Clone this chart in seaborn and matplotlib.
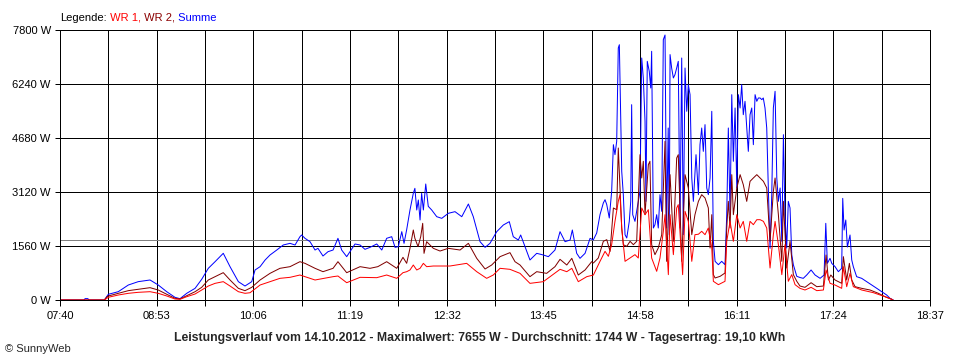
import matplotlib
matplotlib.use("Agg")
import pandas as pd
import matplotlib.pyplot as plt
import seaborn as sns

# time in minutes after midnight, power in W
t_summe = [
    460, 478, 479, 481, 482, 493.5, 496.5, 504.0, 511.6, 519.1,
    528.0, 534.2, 540.6, 546.8, 550.6, 555.7, 562.0, 567.0, 572.0, 577.1,
    583.3, 588.4, 594.7, 599.7, 604.8, 607.3, 611.1, 614.9, 618.6, 623.7,
    628.6, 633.7, 637.5, 641.2, 642.5, 645.0, 648.8, 652.6, 654.8, 658.6,
    662.4, 666.2, 669.9, 672.7, 676.5, 679.0, 682.8, 686.6, 690.3, 694.1,
    699.2, 703.0, 706.7, 710.5, 713.0, 715.5, 718.1, 719.8, 721.8, 724.3,
    726.8, 728.0, 729.4, 730.6, 731.9, 733.1, 734.4, 736.2, 738.1, 740.7,
    744.5, 748.3, 753.2, 758.3, 763.4, 768.4, 772.1, 777.2, 781.0, 784.7,
    789.8, 794.8, 799.3, 802.3, 806.1, 807.9, 811.2, 814.9, 820.0, 825.0,
    828.8, 833.8, 837.6, 841.4, 845.2, 846.9, 850.2, 852.7, 856.5, 860.3,
    862.7, 865.3, 867.8, 870.3, 871.6, 872.9, 874.8, 876.6, 877.9, 879.1,
    880.4, 881.6, 882.4, 883.4, 884.2, 885.4, 886.7, 888.0, 889.9, 891.0,
    891.7, 892.5, 894.2, 896.7, 898.0, 899.3, 900.5, 901.8, 902.5, 903.5,
    905.0, 906.1, 906.8, 908.1, 909.3, 910.6, 911.8, 913.1, 914.4, 915.6,
    916.9, 918.1, 919.3, 920.1, 920.7, 921.9, 923.2, 924.4, 925.7, 926.9,
    928.2, 929.5, 930.7, 932.0, 933.3, 934.5, 935.8, 937.1, 938.3, 940.3,
    942.1, 943.3, 944.6, 945.8, 947.1, 948.4, 949.6, 950.9, 952.2, 953.4,
    954.7, 957.2, 959.7, 962.2, 963.5, 964.7, 966.0, 967.3, 968.5, 969.8,
    971.1, 972.3, 973.6, 974.8, 976.0, 977.3, 978.6, 979.8, 981.1, 982.4,
    983.6, 984.9, 986.2, 987.4, 988.7, 990.0, 991.1, 992.4, 993.7, 994.9,
    996.2, 997.5, 998.7, 1000.0, 1001.3, 1002.5, 1003.8, 1005.1, 1006.3, 1007.5,
    1008.8, 1010.0, 1011.3, 1012.6, 1013.8, 1016.4, 1018.8, 1021.3, 1023.9, 1027.2,
    1030.2, 1034.0, 1037.0, 1038.3, 1039.5, 1041.5, 1042.8, 1045.3, 1047.8, 1050.3,
    1051.1, 1052.1, 1053.4, 1054.6, 1056.6, 1057.9, 1059.1, 1061.6, 1065.4, 1069.2,
    1073.0, 1076.8, 1080.5, 1084.3, 1086.8, 1089.3,
]
summe = [
    0, 0, 40, 40, 0, 0, 165, 240, 433, 530,
    578, 433, 240, 78, 38, 193, 337, 598, 915, 1107,
    1349, 963, 530, 404, 530, 867, 963, 1156, 1300, 1444,
    1589, 1637, 1589, 1829, 1878, 1782, 1685, 1444, 1493, 1271,
    1396, 1444, 1782, 1444, 1252, 1396, 1618, 1589, 1464, 1521,
    1618, 1444, 1782, 1829, 1521, 1541, 1974, 1637, 2032, 2600,
    3081, 3226, 2600, 2889, 2311, 3081, 2600, 3351, 2706, 2600,
    2407, 2359, 2504, 2552, 2407, 2773, 2407, 1685, 1521, 1637,
    1974, 2167, 2263, 1829, 1733, 1878, 1541, 1156, 1348, 1300,
    1252, 1444, 1974, 1685, 1733, 2022, 1348, 1204, 1348, 1782,
    1733, 1935, 2465, 2802, 2898, 2754, 2369, 3139, 4487, 4198,
    4584, 7281, 7375, 5258, 3717, 3043, 1887, 1791, 2272, 2850,
    5643, 2465, 2272, 2850, 3139, 6991, 6414, 5161, 2850, 6895,
    6606, 6125, 7185, 2080, 2176, 2465, 2080, 3043, 2562, 7520,
    7655, 2080, 4969, 1887, 7090, 6702, 6414, 6510, 6702, 6895,
    2080, 6991, 1887, 6702, 5451, 6220, 5932, 3525, 2850, 4198,
    3043, 4487, 4969, 4294, 5066, 3236, 3043, 3525, 5451, 1695,
    1117, 1020, 1117, 1020, 2465, 4969, 2465, 5932, 4007, 5547,
    3236, 5932, 5547, 6220, 5353, 5740, 4969, 4294, 5353, 5547,
    4487, 5932, 5740, 5836, 5836, 5788, 5836, 5547, 4969, 3236,
    1493, 3043, 5547, 6029, 3525, 2850, 3236, 1695, 4776, 2465,
    1502, 2850, 2658, 1310, 1020, 684, 650, 626, 722, 867,
    722, 626, 722, 2215, 1059, 1204, 1059, 963, 818, 915,
    2936, 2022, 2311, 1531, 1878, 1156, 963, 674, 626, 530,
    433, 337, 240, 144, 48, 0,
]

t_wr2 = [
    460, 493.5, 495.5, 496.5, 504.0, 511.6, 519.1, 528.0, 534.2, 540.6,
    546.8, 550.6, 555.7, 562.0, 567.0, 572.0, 577.1, 583.3, 588.4, 594.7,
    599.7, 604.8, 611.1, 618.6, 626.1, 633.7, 641.2, 645.0, 652.6, 658.6,
    666.2, 669.9, 676.5, 686.6, 694.1, 700.0, 706.7, 714.3, 719.0, 721.8,
    724.3, 726.8, 728.0, 730.4, 732.4, 733.9, 734.9, 736.9, 741.9, 747.0,
    753.2, 762.1, 768.4, 774.7, 781.0, 786.0, 792.3, 799.8, 803.6, 807.4,
    814.9, 820.0, 827.5, 833.8, 837.6, 842.7, 846.5, 851.4, 856.5, 861.5,
    862.8, 866.5, 870.3, 872.9, 875.4, 877.9, 880.4, 881.6, 882.9, 884.2,
    885.4, 888.0, 890.5, 893.0, 895.5, 898.0, 899.3, 900.5, 901.8, 904.3,
    905.5, 906.8, 909.3, 911.8, 914.4, 916.9, 918.1, 920.7, 923.2, 925.7,
    926.9, 929.5, 932.0, 934.5, 937.1, 939.5, 942.1, 944.6, 947.1, 949.6,
    950.9, 952.2, 953.4, 954.7, 958.5, 962.2, 963.5, 964.7, 966.0, 967.3,
    968.5, 971.1, 973.6, 976.0, 978.6, 981.1, 983.6, 986.2, 988.7, 991.2,
    993.7, 996.2, 998.7, 1000.0, 1002.5, 1005.1, 1006.3, 1008.8, 1011.3, 1013.8,
    1016.4, 1018.8, 1022.6, 1027.2, 1031.5, 1036.5, 1038.5, 1040.3, 1042.1, 1045.3,
    1050.3, 1051.6, 1054.1, 1056.1, 1057.9, 1060.4, 1065.4, 1071.7, 1078.0, 1083.0,
    1088.1, 1089.0,
]
wr2 = [
    0, 0, 95, 116, 193, 270, 308, 356, 289, 165,
    49, 30, 125, 240, 366, 578, 674, 790, 578, 337,
    269, 366, 578, 770, 915, 963, 1107, 1059, 915, 818,
    915, 1107, 789, 963, 915, 963, 1107, 915, 1233, 1060,
    1493, 2022, 1782, 1541, 1830, 2215, 1348, 1685, 1493, 1415,
    1493, 1444, 1637, 1204, 896, 1011, 1252, 1368, 1107, 1011,
    674, 818, 770, 963, 1175, 1011, 1204, 722, 867, 1107,
    1069, 1213, 1695, 1743, 1406, 2658, 2609, 4391, 3236, 2080,
    1598, 1550, 1695, 1598, 1695, 4198, 3525, 4007, 2465, 3910,
    4007, 1598, 1310, 1502, 1887, 4584, 1117, 3621, 1695, 4102,
    4198, 1117, 3621, 3236, 1887, 2465, 2850, 3043, 2947, 2658,
    1502, 2465, 732, 636, 684, 780, 2080, 2850, 2080, 3621,
    2465, 3236, 3621, 3332, 2850, 3428, 3525, 3621, 3525, 3428,
    3236, 1695, 3139, 3525, 2465, 1117, 2850, 925, 1695, 732,
    540, 404, 366, 500, 385, 404, 1300, 578, 722, 578,
    482, 1252, 578, 1059, 578, 385, 337, 289, 193, 96,
    20, 0,
]

t_wr1 = [
    460, 493.5, 496.5, 504.0, 511.6, 519.1, 528.0, 534.2, 540.6, 546.8,
    550.6, 555.7, 562.0, 567.0, 572.0, 577.1, 583.3, 588.4, 594.7, 599.7,
    603.5, 611.1, 618.6, 626.1, 633.7, 641.2, 652.6, 666.2, 669.9, 676.5,
    686.6, 699.2, 706.7, 714.3, 719.0, 721.8, 724.3, 726.8, 729.4, 731.9,
    734.4, 736.9, 741.9, 754.5, 767.1, 774.7, 782.2, 787.2, 792.3, 799.8,
    807.4, 814.9, 825.0, 837.6, 842.7, 846.5, 851.4, 857.8, 862.8, 867.8,
    871.6, 874.1, 876.6, 879.1, 881.6, 882.9, 884.2, 886.7, 890.5, 894.2,
    896.7, 899.3, 901.8, 904.3, 906.8, 910.6, 913.1, 915.6, 916.9, 919.4,
    920.7, 923.2, 925.7, 926.9, 930.2, 932.0, 934.5, 937.1, 939.5, 942.1,
    944.6, 947.1, 949.6, 952.2, 953.4, 957.2, 962.2, 963.5, 966.0, 968.5,
    971.1, 973.6, 976.0, 978.6, 981.1, 983.6, 986.2, 988.7, 991.2, 993.7,
    996.2, 998.7, 1000.0, 1002.5, 1005.1, 1007.5, 1010.0, 1012.6, 1015.1, 1018.8,
    1022.6, 1027.2, 1031.5, 1036.5, 1038.5, 1041.5, 1045.3, 1050.3, 1051.6, 1054.1,
    1056.6, 1059.1, 1065.4, 1074.2, 1083.0, 1088.1, 1089.0,
]
wr1 = [
    0, 0, 78, 144, 193, 222, 240, 193, 116, 29,
    20, 95, 173, 289, 404, 481, 530, 404, 240, 193,
    210, 433, 529, 626, 655, 722, 578, 674, 693, 500,
    655, 645, 722, 626, 789, 818, 867, 1011, 867, 915,
    1059, 963, 982, 982, 1059, 818, 626, 722, 915, 886,
    770, 481, 530, 886, 818, 915, 530, 674, 722, 1117,
    1406, 1262, 1598, 2272, 2850, 3043, 2080, 1117, 1213, 1310,
    1213, 2658, 2465, 2609, 1213, 828, 1213, 1984, 2465, 732,
    2465, 1310, 2658, 2754, 732, 2562, 2272, 1117, 1887, 1900,
    1984, 1887, 2080, 1502, 540, 443, 540, 1695, 2272, 1695,
    2465, 2080, 2272, 1695, 2272, 2176, 2320, 2320, 2272, 2080,
    925, 1887, 2272, 1598, 732, 1598, 540, 732, 443, 337,
    289, 366, 270, 289, 867, 482, 433, 337, 963, 385,
    770, 385, 289, 212, 96, 20, 0,
]

tick_labels = ["07:40", "08:53", "10:06", "11:19", "12:32",
               "13:45", "14:58", "16:11", "17:24", "18:37"]
y_ticks = [0, 1560, 3120, 4680, 6240, 7800]
average_w = 1744

title = ("Leistungsverlauf vom 14.10.2012 - Maximalwert: 7655 W - "
         "Durchschnitt: 1744 W - Tagesertrag: 19,10 kWh")
legend_parts = [("Legende:", "black"), (" WR 1,", "#ff0000"),
                (" WR 2,", "#8b0000"), (" Summe", "#0000ff")]


def to_min(s):
    h, m = s.split(":")
    return int(h) * 60 + int(m)


label_min = [to_min(s) for s in tick_labels]
x_ticks = []
x_labels = []
for a, b, s in zip(label_min[:-1], label_min[1:], tick_labels[:-1]):
    x_ticks += [a, (a + b) / 2]
    x_labels += [s, ""]
x_ticks.append(label_min[-1])
x_labels.append(tick_labels[-1])

sns.set_style("white")
plt.rcParams["font.family"] = ["Liberation Sans", "DejaVu Sans"]

LW = 0.72  # one pixel at 100 dpi

fig = plt.figure(figsize=(9.6, 3.6), dpi=100)
ax = fig.add_axes([60 / 960, 60 / 360, 870 / 960, 270 / 360])

for v in x_ticks:
    ax.axvline(v, color="black", lw=LW, zorder=1)
for v in y_ticks:
    ax.axhline(v, color="black", lw=LW, zorder=1)
ax.axhline(average_w, color="#808080", lw=LW, zorder=1.5)

series = [(t_summe, summe, "#0000ff"), (t_wr2, wr2, "#800000"), (t_wr1, wr1, "#ff0000")]
for i, (t, w, c) in enumerate(series):
    df = pd.DataFrame({"t": t, "w": w})
    sns.lineplot(data=df, x="t", y="w", color=c, lw=LW, estimator=None,
                 sort=False, ax=ax, zorder=2 + i)

ax.set_xlim(label_min[0], label_min[-1])
ax.set_ylim(0, 7800)
ax.set_xticks(x_ticks)
ax.set_xticklabels(x_labels)
ax.set_yticks(y_ticks)
ax.set_yticklabels([f"{v} W" for v in y_ticks])
ax.set_xlabel("")
ax.set_ylabel("")
for sp in ax.spines.values():
    sp.set_color("black")
    sp.set_linewidth(LW)
    sp.set_zorder(10)
ax.tick_params(axis="x", direction="out", length=4.3, width=LW, colors="black",
               labelsize=8, pad=3.5, bottom=True)
ax.tick_params(axis="y", direction="out", length=3.6, width=LW, colors="black",
               labelsize=8, pad=3, left=True)

fig.text(0.5, 19.3 / 360, title, ha="center", va="baseline",
         fontsize=8.8, fontweight="bold")
fig.text(5 / 960, 8.3 / 360, "\u00a9 SunnyWeb", ha="left", va="baseline", fontsize=8)

renderer = fig.canvas.get_renderer()
x = 60
for s, c in legend_parts:
    txt = fig.text(x / 960, 339 / 360, s, color=c, fontsize=8, va="baseline")
    x = txt.get_window_extent(renderer).x1

fig.savefig("out.png", dpi=100)
